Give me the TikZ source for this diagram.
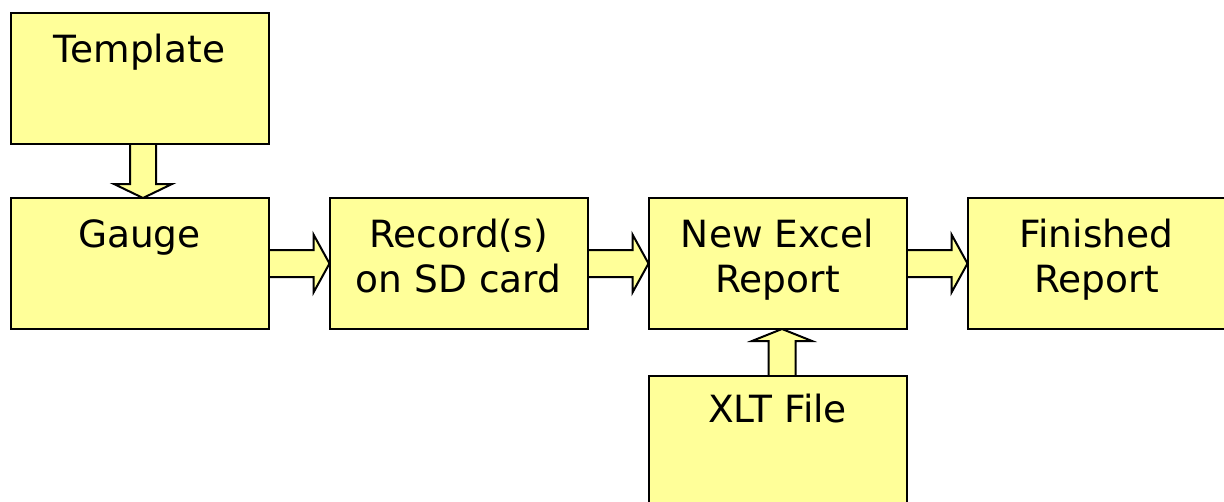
\documentclass[tikz,border=0pt]{standalone}
\usepackage{fontspec}
\setmainfont{DejaVu Sans}
\usetikzlibrary{calc,backgrounds}
\definecolor{boxfill}{HTML}{FFFF99}
\tikzset{
  box/.style={draw=black, fill=boxfill, line width=2pt, minimum width=258pt, minimum height=131pt, inner sep=0pt, outer sep=0pt},
  txt/.style={font=\fontsize{37.5}{45}\selectfont, anchor=base, inner sep=0pt, align=center},
  blk/.style={draw=black, fill=boxfill, line width=2pt, line join=miter}
}
\begin{document}
\begin{tikzpicture}[x=1pt,y=-1pt]
\useasboundingbox (0,0) rectangle (1224,501);
\clip (0,0) rectangle (1224,501);
% boxes
\node[box] (tpl) at (139.5,78.5) {};
\node[box] (gau) at (139.5,263.5) {};
\node[box] (rec) at (458.5,263.5) {};
\node[box] (nex) at (777.5,263.5) {};
\node[box] (fin) at (1096.5,263.5) {};
\node[box] (xlt) at (777.5,441.5) {};
% texts
\node[txt] (ttpl) at ($(tpl.north)+(0,49)$) {Template};
\node[txt] (tgau) at ($(gau.north)+(0,49)$) {Gauge};
\node[txt] (trec1) at ($(rec.north)+(0,49)$) {Record(s)};
\node[txt] (trec2) at ($(rec.north)+(0,94)$) {on SD card};
\node[txt] (tnex1) at ($(nex.north)+(0,49)$) {New Excel};
\node[txt] (tnex2) at ($(nex.north)+(0,94)$) {Report};
\node[txt] (tfin1) at ($(fin.north)+(0,49)$) {Finished};
\node[txt] (tfin2) at ($(fin.north)+(0,94)$) {Report};
\node[txt] (txlt) at ($(xlt.north)+(0,46)$) {XLT File};
\begin{scope}[on background layer]
% down arrow template -> gauge
\draw[blk] ($(tpl.south)+(-9.5,0)$) -- ($(gau.north)+(-9.5,-14)$) -- ($(gau.north)+(-25.5,-14)$)
  -- ($(gau.north)+(3.5,0)$) -- ($(gau.north)+(32.5,-14)$) -- ($(gau.north)+(16.5,-14)$)
  -- ($(tpl.south)+(16.5,0)$);
% right arrows
\foreach \a/\b in {gau/rec, rec/nex, nex/fin}{
  \draw[blk] ($(\a.east)+(0,-13.5)$) -- ($(\b.west)+(-16,-13.5)$) -- ($(\b.west)+(-16,-29)$)
    -- (\b.west) -- ($(\b.west)+(-16,29)$) -- ($(\b.west)+(-16,13.5)$) -- ($(\a.east)+(0,13.5)$);
}
% up arrow xlt -> new excel
\draw[blk] ($(xlt.north)+(-9,0)$) -- ($(nex.south)+(-9,12)$) -- ($(nex.south)+(-25.5,12)$)
  -- ($(nex.south)+(4.5,0)$) -- ($(nex.south)+(34.5,12)$) -- ($(nex.south)+(18,12)$)
  -- ($(xlt.north)+(18,0)$);
\end{scope}
\end{tikzpicture}
\end{document}
